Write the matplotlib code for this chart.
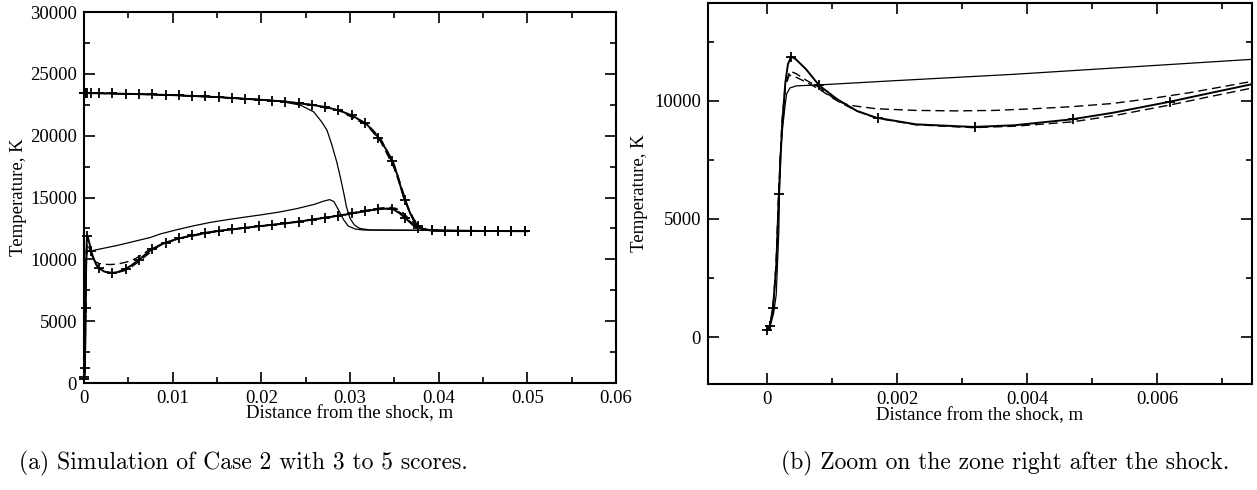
import matplotlib
matplotlib.use("Agg")
import matplotlib.pyplot as plt
from matplotlib.ticker import MultipleLocator, FixedLocator

plt.rcParams["font.family"] = ["Liberation Serif", "DejaVu Serif"]
plt.rcParams["font.size"] = 13.5

# ---- data (x in m, T in K) ----
# thin solid run: upper (translational) and lower branches
THIN_HI_X = [0, 0.005, 0.01, 0.015, 0.02, 0.0221, 0.0244, 0.0259, 0.0268, 0.0274,
             0.0279, 0.0285, 0.0289, 0.0293, 0.0296, 0.0300, 0.0305, 0.0311, 0.0323, 0.05]
THIN_HI_T = [23450, 23380, 23280, 23120, 22900, 22780, 22470, 21930, 21120, 20450,
             19380, 17890, 16680, 15340, 14250, 13310, 12770, 12500, 12370, 12300]
THIN_LO_X = [0, 0.00005, 0.0001, 0.00014, 0.00018, 0.0002, 0.00024, 0.00028, 0.0003,
             0.00035, 0.00045, 0.0008, 0.0019, 0.0038, 0.0075, 0.0086, 0.0105, 0.0123,
             0.0142, 0.0161, 0.0180, 0.0200, 0.0220, 0.0240, 0.0260, 0.0270, 0.0277,
             0.0282, 0.0287, 0.0293, 0.0298, 0.0306, 0.0315, 0.05]
THIN_LO_T = [300, 500, 1000, 1800, 4500, 7640, 8910, 9900, 10300,
             10550, 10640, 10680, 10850, 11130, 11770, 12050, 12400, 12700,
             12980, 13200, 13400, 13600, 13820, 14100, 14450, 14700, 14830,
             14660, 13990, 13180, 12690, 12450, 12370, 12300]

# solid run with + markers
PLUS_HI_X = [0, 0.005, 0.01, 0.015, 0.02, 0.0228, 0.0243, 0.0259, 0.0274, 0.0289,
             0.0303, 0.0319, 0.0334, 0.0341, 0.0349, 0.0353, 0.0357, 0.0361, 0.0364,
             0.0368, 0.0372, 0.0376, 0.0380, 0.0386, 0.0394, 0.042, 0.05]
PLUS_HI_T = [23450, 23380, 23280, 23120, 22900, 22750, 22610, 22470, 22290, 22010,
             21610, 20910, 19700, 18840, 17700, 16900, 15900, 14950, 14450,
             13700, 13100, 12750, 12520, 12380, 12330, 12300, 12280]
PLUS_LO_X = [0, 0.00004, 0.00009, 0.00014, 0.00018, 0.00023, 0.00028, 0.00032, 0.00037,
             0.00044, 0.0006, 0.0008, 0.00108, 0.00138, 0.00168, 0.00229, 0.00317,
             0.0038, 0.00468, 0.00532, 0.00618, 0.00684, 0.0077, 0.0092, 0.0107,
             0.0123, 0.0138, 0.0153, 0.0168, 0.0182, 0.0198, 0.0228, 0.0243, 0.0259,
             0.0274, 0.0289, 0.0303, 0.0319, 0.0334, 0.0342, 0.0349, 0.0356, 0.0364,
             0.0371, 0.0379, 0.0386, 0.0394, 0.042, 0.05]
PLUS_LO_T = [310, 450, 1230, 3000, 6040, 8940, 10780, 11560, 11880,
             11770, 11340, 10660, 10070, 9580, 9290, 9010, 8900,
             8970, 9220, 9500, 9960, 10350, 10850, 11350, 11700,
             11940, 12160, 12320, 12430, 12560, 12680, 12910, 13050, 13230,
             13390, 13550, 13720, 13930, 14070, 14100, 14040, 13720, 13230,
             12770, 12500, 12380, 12330, 12300, 12280]

# marker positions (simulation output points) on the + run
MARK_X = [0, 0.00004, 0.00009, 0.00018, 0.00037, 0.0008, 0.0017, 0.0032, 0.0047,
          0.0062, 0.0077, 0.0092, 0.0107, 0.0122, 0.0137, 0.0152, 0.0167, 0.0182,
          0.0197, 0.0212, 0.0227, 0.0242, 0.0257, 0.0272, 0.0287, 0.0302, 0.0317,
          0.0332, 0.0347, 0.0362, 0.0377, 0.0392, 0.0407, 0.0422, 0.0437, 0.0452,
          0.0467, 0.0482, 0.0497]
MARK_HI_T = [23450, 23450, 23450, 23450, 23450, 23440, 23430, 23410, 23390,
             23360, 23330, 23300, 23260, 23220, 23170, 23110, 23050, 22980,
             22910, 22830, 22750, 22620, 22490, 22310, 22050, 21640, 21000,
             19850, 17950, 14800, 12700, 12340, 12300, 12300, 12290, 12290,
             12290, 12280, 12280]
MARK_LO_T = [310, 450, 1230, 6040, 11880, 10660, 9280, 8900, 9220,
             9960, 10850, 11350, 11700, 11930, 12150, 12310, 12420, 12560,
             12670, 12790, 12900, 13040, 13210, 13370, 13530, 13710, 13900,
             14060, 14060, 13350, 12560, 12340, 12310, 12300, 12290, 12290,
             12290, 12280, 12280]

# dashed run (shallow dip)
DASH_HI_X = [0, 0.005, 0.01, 0.015, 0.02, 0.0228, 0.0259, 0.0289, 0.0319, 0.0334,
             0.0349, 0.0357, 0.0365, 0.0372, 0.0378, 0.0384, 0.0392, 0.042, 0.05]
DASH_HI_T = [23450, 23380, 23280, 23120, 22900, 22760, 22480, 22030, 20980, 19820,
             17850, 16100, 14300, 13250, 12700, 12420, 12330, 12300, 12280]
DASH_LO_X = [0, 0.00004, 0.00009, 0.00014, 0.00018, 0.00023, 0.00028, 0.00035,
             0.00045, 0.0006, 0.00078, 0.00108, 0.00126, 0.00168, 0.00229, 0.0029,
             0.0035, 0.0041, 0.0047, 0.0053, 0.0059, 0.0065, 0.0075, 0.0085, 0.0092,
             0.0123, 0.0168, 0.0228, 0.0289, 0.0319, 0.0334, 0.0345, 0.0352, 0.036,
             0.0367, 0.0375, 0.0383, 0.0394, 0.042, 0.05]
DASH_LO_T = [300, 450, 1200, 3200, 6300, 9200, 10700, 11270,
             11150, 10880, 10610, 10000, 9820, 9670, 9600, 9580,
             9600, 9670, 9760, 9890, 10100, 10350, 10850, 11150, 11380,
             11960, 12450, 12930, 13580, 13970, 14150, 14200, 14120, 13750,
             13250, 12800, 12480, 12340, 12300, 12280]

# second dashed run (close to the + run)
DASH2_HI_X = [0, 0.005, 0.01, 0.015, 0.02, 0.0228, 0.0259, 0.0289, 0.0319, 0.0334,
              0.0349, 0.0355, 0.0361, 0.0366, 0.0371, 0.0376, 0.0382, 0.039, 0.042, 0.05]
DASH2_HI_T = [23450, 23380, 23280, 23120, 22900, 22740, 22450, 21980, 20850, 19600,
              17500, 16300, 14900, 14000, 13300, 12800, 12480, 12340, 12300, 12280]
DASH2_LO_X = [0, 0.00004, 0.00009, 0.00014, 0.00018, 0.00023, 0.00028, 0.00034,
              0.00045, 0.0006, 0.0008, 0.00108, 0.00138, 0.00169, 0.00229, 0.00317,
              0.0038, 0.00468, 0.00532, 0.00618, 0.00684, 0.0075, 0.0085, 0.0107,
              0.0153, 0.0198, 0.0259, 0.0303, 0.0334, 0.0345, 0.0353, 0.036, 0.0368,
              0.0376, 0.0385, 0.0394, 0.042, 0.05]
DASH2_LO_T = [300, 450, 1250, 3100, 6100, 9000, 10600, 11100,
              11000, 10800, 10500, 10000, 9570, 9270, 8990, 8870,
              8930, 9110, 9370, 9820, 10200, 10570, 11100, 11680,
              12300, 12670, 13220, 13700, 14080, 14120, 13950, 13600, 13050,
              12650, 12400, 12320, 12300, 12280]

CAPTIONS = ["(a) Simulation of Case 2 with 3 to 5 scores.",
            "(b) Zoom on the zone right after the shock."]

fig = plt.figure(figsize=(12.57, 4.90), dpi=100)
ax1 = fig.add_axes([84 / 1257, 1 - 383 / 490, 532 / 1257, 371 / 490])
ax2 = fig.add_axes([708 / 1257, 1 - 384 / 490, 544 / 1257, 381 / 490])


def draw(ax):
    for xs, ts in [(THIN_HI_X, THIN_HI_T), (THIN_LO_X, THIN_LO_T)]:
        ax.plot(xs, ts, color="black", lw=0.9, solid_joinstyle="round")
    for xs, ts in [(DASH_HI_X, DASH_HI_T), (DASH_LO_X, DASH_LO_T),
                   (DASH2_HI_X, DASH2_HI_T), (DASH2_LO_X, DASH2_LO_T)]:
        ax.plot(xs, ts, color="black", lw=1.0, dashes=(6.5, 3.5))
    for xs, ts in [(PLUS_HI_X, PLUS_HI_T), (PLUS_LO_X, PLUS_LO_T)]:
        ax.plot(xs, ts, color="black", lw=1.4, solid_joinstyle="round")
    for ts in [MARK_HI_T, MARK_LO_T]:
        ax.plot(MARK_X, ts, ls="none", marker="+", ms=7, mew=1.3, color="black",
                clip_on=False)


def style(ax):
    ax.tick_params(which="both", direction="in", top=True, right=True,
                   width=1.2, labelsize=13.5)
    ax.tick_params(which="major", length=8, pad=5)
    ax.tick_params(which="minor", length=4.5)
    for s in ax.spines.values():
        s.set_linewidth(1.5)
    ax.set_xlabel("Distance from the shock, m", fontsize=13.5, va="center")
    ax.set_ylabel("Temperature, K", fontsize=13.5, va="center")


draw(ax1)
ax1.set_xlim(0, 0.06)
ax1.set_ylim(0, 30000)
ax1.xaxis.set_major_locator(FixedLocator([0, 0.01, 0.02, 0.03, 0.04, 0.05, 0.06]))
ax1.set_xticklabels(["0", "0.01", "0.02", "0.03", "0.04", "0.05", "0.06"])
ax1.xaxis.set_minor_locator(MultipleLocator(0.005))
ax1.yaxis.set_major_locator(MultipleLocator(5000))
ax1.yaxis.set_minor_locator(MultipleLocator(2500))
style(ax1)
ax1.xaxis.set_label_coords(0.5, -0.083)
ax1.yaxis.set_label_coords(-0.124, 0.5)

draw(ax2)
ax2.set_xlim(-0.00091, 0.00746)
ax2.set_ylim(-1990, 14150)
ax2.xaxis.set_major_locator(FixedLocator([0, 0.002, 0.004, 0.006]))
ax2.set_xticklabels(["0", "0.002", "0.004", "0.006"])
ax2.xaxis.set_minor_locator(MultipleLocator(0.001))
ax2.yaxis.set_major_locator(MultipleLocator(5000))
ax2.yaxis.set_minor_locator(MultipleLocator(2500))
style(ax2)
ax2.xaxis.set_label_coords(0.5, -0.084)
ax2.yaxis.set_label_coords(-0.125, 0.5)

fig.text(243 / 1257, 1 - 463 / 490, CAPTIONS[0], family="cmr10", fontsize=17,
         ha="center", va="center")
fig.text(1005 / 1257, 1 - 463 / 490, CAPTIONS[1], family="cmr10", fontsize=17,
         ha="center", va="center")

fig.savefig("out.png", dpi=100)
